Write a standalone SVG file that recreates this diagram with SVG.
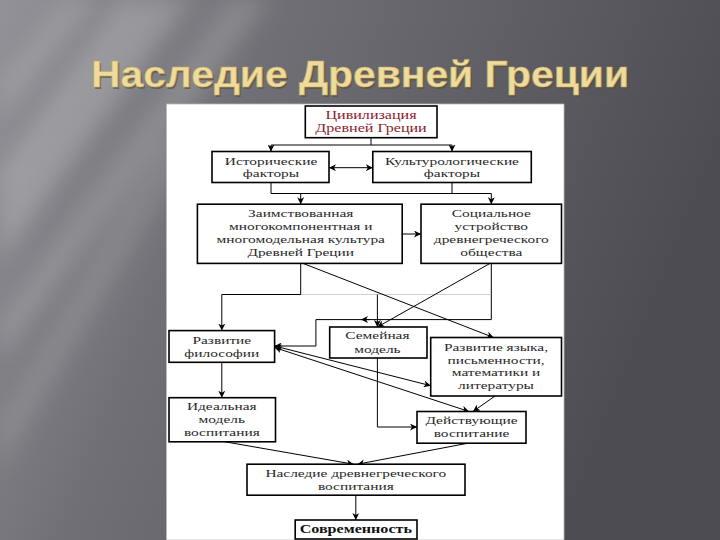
<svg xmlns="http://www.w3.org/2000/svg" width="720" height="540" viewBox="0 0 720 540">
<defs>
  <linearGradient id="bg" x1="0" y1="0" x2="1" y2="0.3">
    <stop offset="0" stop-color="#929298"/>
    <stop offset="0.35" stop-color="#707076"/>
    <stop offset="1" stop-color="#4c4c52"/>
  </linearGradient>
  <filter id="blur" x="-50%" y="-50%" width="200%" height="200%"><feGaussianBlur stdDeviation="10"/></filter>
  <marker id="ah" markerUnits="userSpaceOnUse" markerWidth="8" markerHeight="7" refX="7" refY="3.5" orient="auto-start-reverse" viewBox="0 0 8 7">
    <path d="M0,0 L7,3.5 L0,7 L2,3.5 z" fill="#000"/>
  </marker>
  <style>
    .box{fill:#fff;stroke:#000;stroke-width:1.6}
    .t{font-family:"Liberation Serif","Times New Roman",serif;font-size:11px;fill:#2a2a2a;text-anchor:middle}
    .red{fill:#8b1c2c;font-size:11.5px}
    .b{font-weight:bold;font-size:11.5px;fill:#111}
    .c{fill:none;stroke:#000;stroke-width:1}
    .ca{fill:none;stroke:#000;stroke-width:1;marker-end:url(#ah)}
    .cd{fill:none;stroke:#000;stroke-width:1;marker-start:url(#ah);marker-end:url(#ah)}
    .title{font-family:"Liberation Sans",Arial,sans-serif;font-weight:bold;font-size:36px;text-anchor:middle}
  </style>
</defs>

<!-- background -->
<rect x="0" y="0" width="720" height="540" fill="url(#bg)"/>
<g filter="url(#blur)" fill="#ffffff">
  <polygon points="120,0 190,0 0,260 0,170" opacity="0.18"/>
  <polygon points="230,0 270,0 0,360 0,320" opacity="0.14"/>
  <polygon points="60,0 100,0 0,120 0,80" opacity="0.12"/>
  <polygon points="160,140 200,140 0,470 0,420" opacity="0.10"/>
</g>

<!-- title -->
<g id="title">
  <text class="title" x="361.5" y="88.5" textLength="538" lengthAdjust="spacingAndGlyphs" fill="#5a4e30" opacity="0.6">Наследие Древней Греции</text>
  <text class="title" x="360" y="87" textLength="538" lengthAdjust="spacingAndGlyphs" fill="#efdb9b" stroke="#bfa868" stroke-width="0.6">Наследие Древней Греции</text>
</g>

<!-- panel -->
<rect x="166.5" y="104" width="397.5" height="436" fill="#ffffff" stroke="#b8b8b8" stroke-width="0.8"/>

<!-- connectors -->
<g id="connectors">
  <path class="c" d="M371,137.7 V145 M271,145 H452"/>
  <path class="ca" d="M271,145 V151.5"/>
  <path class="ca" d="M452,145 V151.5"/>
  <path class="cd" d="M329,167.7 H372.8"/>
  <path class="c" d="M271,182.5 V193.5 H491.3 M452,182.5 V193.5"/>
  <path class="ca" d="M300.7,193.5 V204.2"/>
  <path class="ca" d="M491.3,193.5 V204.2"/>
  <path class="ca" d="M402.2,234 H421"/>
  <path fill="none" stroke="#cfcfcf" stroke-width="1" d="M300.7,294.5 H490"/>
  <path class="ca" d="M300.7,263.4 V294.5 H221.8 V330.6"/>
  <path class="ca" d="M377.4,294.5 V327"/>
  <path class="ca" d="M491.3,263.4 V319.6 H315.9 V346 H274.6"/>
  <path class="ca" d="M370,319.6 H361"/>
  <path class="ca" d="M303,263.4 L493.6,337.5"/>
  <path class="ca" d="M490,263.4 L377.4,327"/>
  <path class="ca" d="M221.8,362.3 V397.7"/>
  <path class="cd" d="M274.6,346 L430.7,385.7"/>
  <path class="cd" d="M274.6,347.5 L469,411.5"/>
  <path class="ca" d="M495,396 L473,411.5"/>
  <path class="ca" d="M377.4,358 V427 H417"/>
  <path class="ca" d="M225,441.8 L353.5,464.2"/>
  <path class="ca" d="M468,443.2 L357.5,464.2"/>
  <path class="ca" d="M355.8,495.2 V520"/>
</g>

<!-- nodes -->
<g id="n1">
  <rect class="box" x="305.3" y="106" width="131.7" height="31.7"/>
  <text class="t red" transform="translate(371 0) scale(1.4 1)" x="0" y="118.8">Цивилизация</text>
  <text class="t red" transform="translate(371 0) scale(1.4 1)" x="0" y="132">Древней Греции</text>
</g>
<g id="n2">
  <rect class="box" x="212" y="151.5" width="117" height="31"/>
  <text class="t" transform="translate(271 0) scale(1.4 1)" x="0" y="164.6">Исторические</text>
  <text class="t" transform="translate(271 0) scale(1.4 1)" x="0" y="177">факторы</text>
</g>
<g id="n3">
  <rect class="box" x="372.8" y="151.5" width="158.5" height="31"/>
  <text class="t" transform="translate(452 0) scale(1.4 1)" x="0" y="164.6">Культурологические</text>
  <text class="t" transform="translate(452 0) scale(1.4 1)" x="0" y="177">факторы</text>
</g>
<g id="n4">
  <rect class="box" x="197.4" y="204.2" width="204.8" height="59.2"/>
  <text class="t" transform="translate(300.7 0) scale(1.4 1)" x="0" y="216.6">Заимствованная</text>
  <text class="t" transform="translate(300.7 0) scale(1.4 1)" x="0" y="230">многокомпонентная и</text>
  <text class="t" transform="translate(300.7 0) scale(1.4 1)" x="0" y="243.1">многомодельная культура</text>
  <text class="t" transform="translate(300.7 0) scale(1.4 1)" x="0" y="255.8">Древней Греции</text>
</g>
<g id="n5">
  <rect class="box" x="421" y="204.2" width="140.5" height="59.2"/>
  <text class="t" transform="translate(491.3 0) scale(1.4 1)" x="0" y="216.6">Социальное</text>
  <text class="t" transform="translate(491.3 0) scale(1.4 1)" x="0" y="230">устройство</text>
  <text class="t" transform="translate(491.3 0) scale(1.4 1)" x="0" y="243.1">древнегреческого</text>
  <text class="t" transform="translate(491.3 0) scale(1.4 1)" x="0" y="255.8">общества</text>
</g>
<g id="n6">
  <rect class="box" x="169" y="330.6" width="105.6" height="31.7"/>
  <text class="t" transform="translate(221.8 0) scale(1.4 1)" x="0" y="343.7">Развитие</text>
  <text class="t" transform="translate(221.8 0) scale(1.4 1)" x="0" y="356.8">философии</text>
</g>
<g id="n7">
  <rect class="box" x="329.7" y="327" width="97.3" height="31"/>
  <text class="t" transform="translate(377.4 0) scale(1.4 1)" x="0" y="339.5">Семейная</text>
  <text class="t" transform="translate(377.4 0) scale(1.4 1)" x="0" y="352.6">модель</text>
</g>
<g id="n8">
  <rect class="box" x="430.7" y="337.5" width="130.8" height="58.5"/>
  <text class="t" transform="translate(496 0) scale(1.4 1)" x="0" y="350.6">Развитие языка,</text>
  <text class="t" transform="translate(496 0) scale(1.4 1)" x="0" y="363.6">письменности,</text>
  <text class="t" transform="translate(496 0) scale(1.4 1)" x="0" y="376.4">математики и</text>
  <text class="t" transform="translate(496 0) scale(1.4 1)" x="0" y="389.5">литературы</text>
</g>
<g id="n9">
  <rect class="box" x="169" y="397.7" width="106.5" height="44.1"/>
  <text class="t" transform="translate(221.8 0) scale(1.4 1)" x="0" y="410.1">Идеальная</text>
  <text class="t" transform="translate(221.8 0) scale(1.4 1)" x="0" y="423.2">модель</text>
  <text class="t" transform="translate(221.8 0) scale(1.4 1)" x="0" y="436">воспитания</text>
</g>
<g id="n10">
  <rect class="box" x="417" y="411.5" width="109" height="31.7"/>
  <text class="t" transform="translate(471.5 0) scale(1.4 1)" x="0" y="423.9">Действующие</text>
  <text class="t" transform="translate(471.5 0) scale(1.4 1)" x="0" y="437">воспитание</text>
</g>
<g id="n11">
  <rect class="box" x="247" y="464.2" width="218" height="31"/>
  <text class="t" transform="translate(355.8 0) scale(1.4 1)" x="0" y="477.3">Наследие древнегреческого</text>
  <text class="t" transform="translate(355.8 0) scale(1.4 1)" x="0" y="490">воспитания</text>
</g>
<g id="n12">
  <rect class="box" x="295.2" y="520" width="121.8" height="19" stroke-width="2"/>
  <text class="t b" transform="translate(355.8 0) scale(1.4 1)" x="0" y="533">Современность</text>
</g>
</svg>
